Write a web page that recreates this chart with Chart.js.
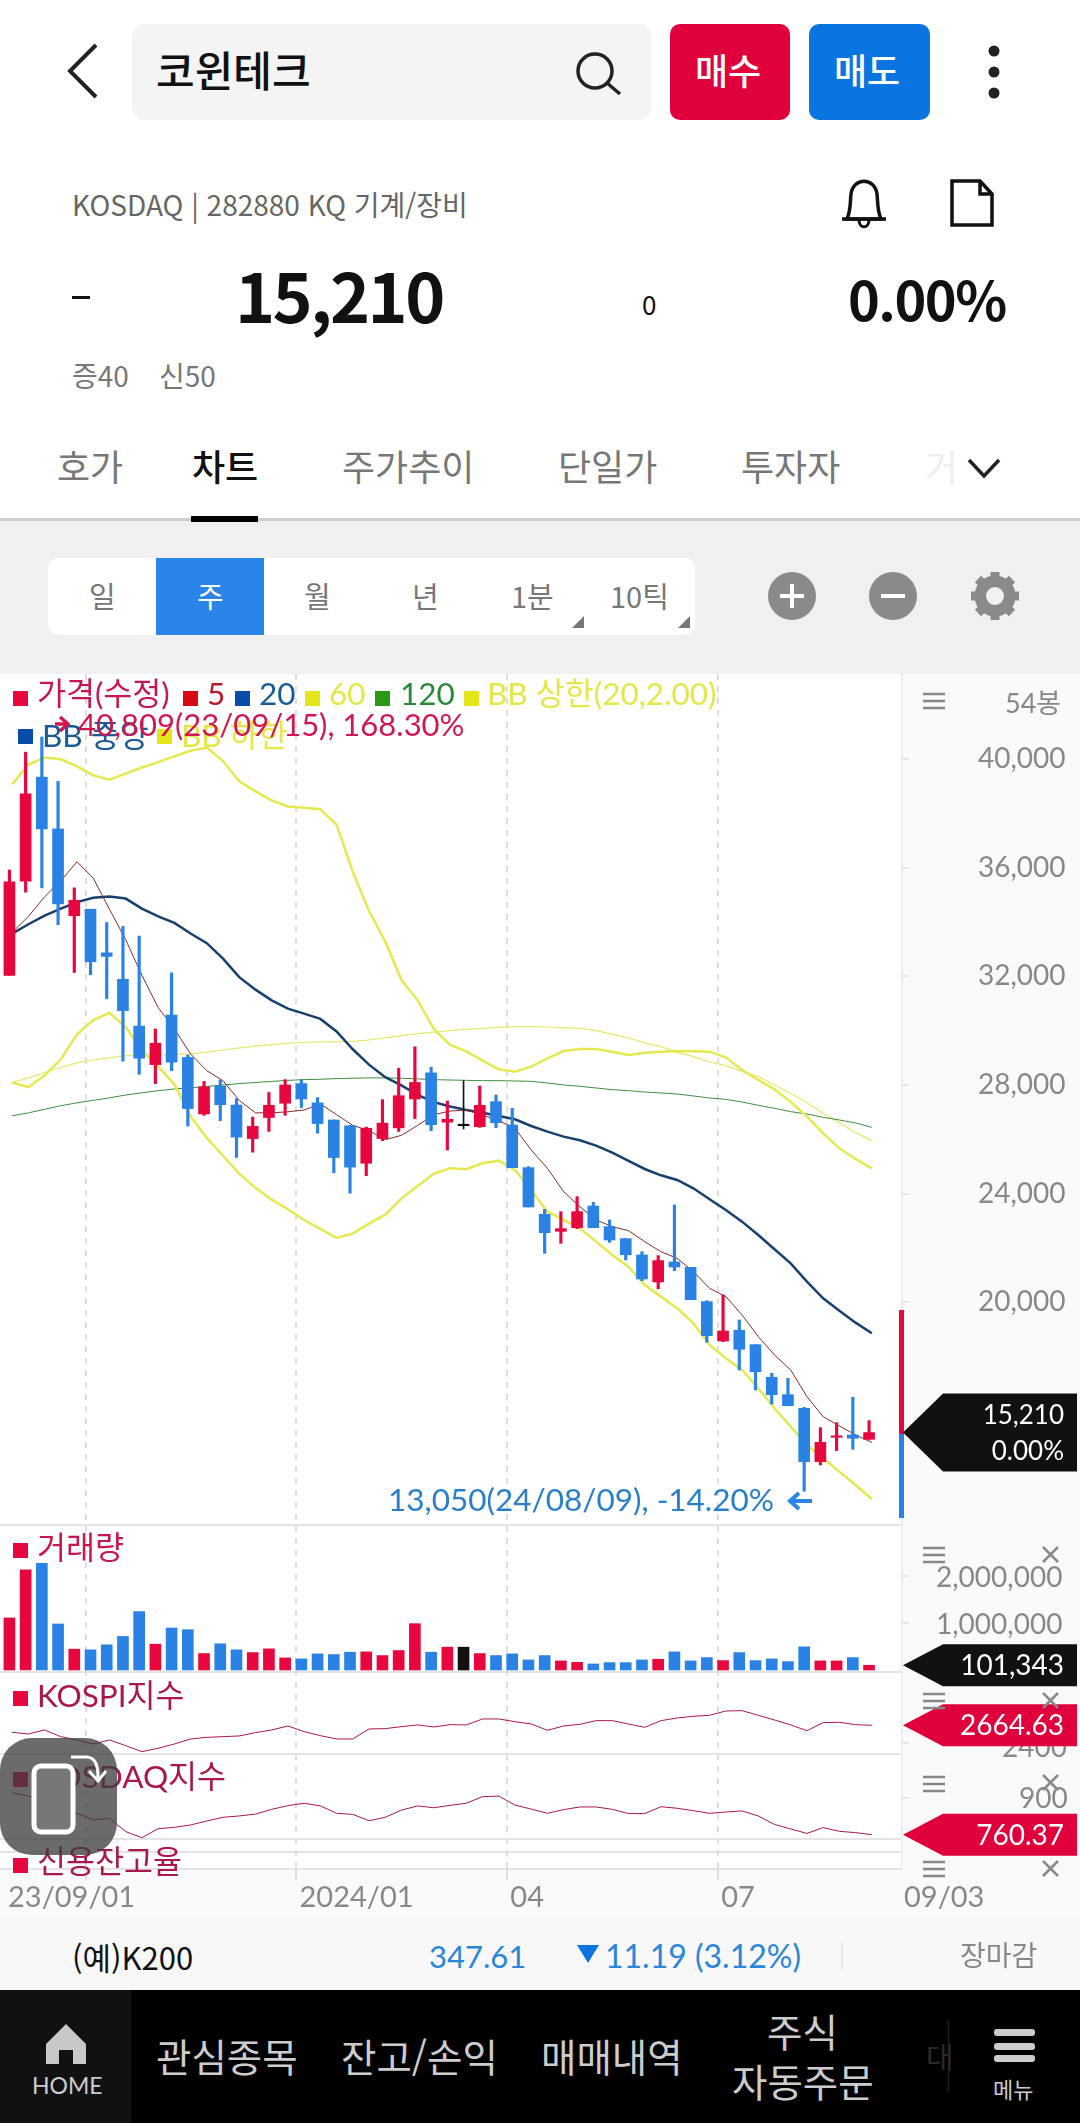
<!DOCTYPE html>
<html lang="ko">
<head>
<meta charset="utf-8">
<title>코윈테크</title>
<script src="https://cdn.jsdelivr.net/npm/chart.js@4"></script>
<style>
    html, body { margin: 0; padding: 0; background: #fff; }
    body { position: relative; width: 1080px; height: 2123px; overflow: hidden; font-family: Lato, "Noto Sans CJK KR", sans-serif; }
    .box, .t, svg, canvas { position: absolute; }
    .t { white-space: nowrap; line-height: 1; transform: translateY(-50%); }
    .k { font-family: "Noto Sans CJK KR", sans-serif; }
    .sq { position: absolute; width: 15px; height: 15px; }
</style>
</head>
<body>
<!-- backgrounds -->
<div class="box" style="left:0;top:520px;width:1080px;height:154px;background:#f0f0f0"></div>
<div class="box" style="left:0;top:518px;width:1080px;height:3px;background:#cfcfcf"></div>
<div class="box" style="left:191px;top:516px;width:67px;height:6px;background:#000"></div>
<div class="box" style="left:901px;top:674px;width:179px;height:1244px;background:#fafafa;border-left:2px solid #eee;box-sizing:border-box"></div>
<div class="box" style="left:0;top:1870px;width:1080px;height:48px;background:#fafafa"></div>
<div class="box" style="left:0;top:1917px;width:1080px;height:74px;background:#f8f8f8"></div>
<div class="box" style="left:0;top:1990px;width:1080px;height:133px;background:#000"></div>
<div class="box" style="left:0;top:1990px;width:131px;height:133px;background:#111"></div>
<!-- panel separators -->
<div class="box" style="left:0;top:1524px;width:901px;height:2px;background:#e4e4e4"></div>
<div class="box" style="left:0;top:1671px;width:901px;height:2px;background:#e4e4e4"></div>
<div class="box" style="left:0;top:1753px;width:901px;height:2px;background:#e4e4e4"></div>
<div class="box" style="left:0;top:1838px;width:901px;height:2px;background:#e4e4e4"></div>
<div class="box" style="left:0;top:1851px;width:901px;height:2px;background:#e4e4e4"></div>
<div class="box" style="left:0;top:1868px;width:901px;height:2px;background:#e4e4e4"></div>
<div class="box" style="left:899px;top:1310px;width:5px;height:124px;background:#e8063f"></div>
<div class="box" style="left:899px;top:1434px;width:5px;height:84px;background:#2a82e4"></div>

<!-- header -->
<svg style="left:60px;top:40px" width="45" height="62"><polyline points="36,5 10,31 36,57" fill="none" stroke="#222" stroke-width="4"/></svg>
<div class="box" style="left:132px;top:24px;width:519px;height:96px;background:#f4f4f4;border-radius:12px"></div>
<div class="t k" style="left:156px;top:69px;font-size:42px;font-weight:500;color:#111">코윈테크</div>
<svg style="left:572px;top:48px" width="52" height="50"><circle cx="23" cy="23" r="17" fill="none" stroke="#222" stroke-width="3.5"/><line x1="35" y1="35" x2="48" y2="46" stroke="#222" stroke-width="3.5"/></svg>
<div class="box" style="left:670px;top:24px;width:120px;height:96px;background:#e0003c;border-radius:10px"></div>
<div class="box" style="left:809px;top:24px;width:121px;height:96px;background:#0a74e0;border-radius:10px"></div>
<div class="t k" style="left:695px;top:69px;font-size:36px;font-weight:500;color:#fff">매수</div>
<div class="t k" style="left:834px;top:69px;font-size:36px;font-weight:500;color:#fff">매도</div>
<svg style="left:985px;top:42px" width="18" height="60"><circle cx="9" cy="9" r="5.5" fill="#222"/><circle cx="9" cy="30" r="5.5" fill="#222"/><circle cx="9" cy="51" r="5.5" fill="#222"/></svg>

<div class="t k" style="left:72px;top:204px;font-size:28px;color:#666">KOSDAQ&nbsp;|&nbsp;282880 KQ 기계/장비</div>
<svg style="left:838px;top:178px" width="52" height="54"><path d="M9 41 C13 32 12 24 13 16 C15 -1 37 -1 39 16 C40 24 39 32 43 41 Z" fill="none" stroke="#111" stroke-width="3.5"/><line x1="4" y1="41" x2="48" y2="41" stroke="#111" stroke-width="3.5"/><path d="M21 42 C21 51 31 51 31 42" fill="none" stroke="#111" stroke-width="3"/></svg>
<svg style="left:948px;top:178px" width="50" height="52"><path d="M4 3 H32 L44 16 V47 H4 Z M32 3 V16 H44" fill="none" stroke="#111" stroke-width="3.5"/></svg>
<div class="box" style="left:72px;top:296px;width:18px;height:3px;background:#111"></div>
<div class="t k" style="left:235px;top:294px;font-size:68px;font-weight:700;color:#111;letter-spacing:-2.5px">15,210</div>
<div class="t k" style="left:642px;top:304px;font-size:26px;color:#111">0</div>
<div class="t k" style="left:848px;top:298px;font-size:54px;font-weight:700;color:#111;letter-spacing:-1.5px">0.00%</div>
<div class="t k" style="left:72px;top:375px;font-size:28px;color:#777">증40</div>
<div class="t k" style="left:159px;top:375px;font-size:28px;color:#777">신50</div>

<!-- tabs -->
<div class="t k" style="left:57px;top:465px;font-size:36px;color:#777">호가</div>
<div class="t k" style="left:192px;top:465px;font-size:36px;font-weight:500;color:#111">차트</div>
<div class="t k" style="left:342px;top:465px;font-size:36px;color:#777">주가추이</div>
<div class="t k" style="left:558px;top:465px;font-size:36px;color:#777">단일가</div>
<div class="t k" style="left:741px;top:465px;font-size:36px;color:#777">투자자</div>
<div class="t k" style="left:925px;top:465px;font-size:36px;color:#eee">거</div>
<svg style="left:966px;top:456px" width="36" height="24"><polyline points="3,4 18,20 33,4" fill="none" stroke="#222" stroke-width="3.5"/></svg>

<!-- period buttons -->
<div class="box" style="left:48px;top:558px;width:647px;height:77px;background:#fff;border-radius:10px"></div>
<div class="box" style="left:156px;top:558px;width:108px;height:77px;background:#2b85e8"></div>
<div class="t k" style="left:89px;top:595px;font-size:29px;color:#777">일</div>
<div class="t k" style="left:197px;top:595px;font-size:29px;color:#fff">주</div>
<div class="t k" style="left:304px;top:595px;font-size:29px;color:#777">월</div>
<div class="t k" style="left:412px;top:595px;font-size:29px;color:#777">년</div>
<div class="t k" style="left:511px;top:595px;font-size:29px;color:#777">1분</div>
<div class="t k" style="left:610px;top:595px;font-size:29px;color:#777">10틱</div>
<svg style="left:570px;top:613px" width="124" height="18"><polygon points="14,3 14,15 2,15" fill="#777"/><polygon points="120,3 120,15 108,15" fill="#777"/></svg>
<svg style="left:766px;top:570px" width="254" height="54">
    <circle cx="26" cy="26" r="24" fill="#8a8a8a"/><path d="M14 26 H38 M26 14 V38" stroke="#fff" stroke-width="4"/>
    <circle cx="127" cy="26" r="24" fill="#8a8a8a"/><path d="M115 26 H139" stroke="#fff" stroke-width="4"/>
    <circle cx="229" cy="26" r="15" fill="none" stroke="#8a8a8a" stroke-width="11"/>
    <path d="M229 2 V50 M205 26 H253 M212 9 L246 43 M246 9 L212 43" stroke="#8a8a8a" stroke-width="9"/>
    <circle cx="229" cy="26" r="9" fill="#f0f0f0"/>
</svg>

<canvas id="priceChart" width="1080" height="1244" style="left:0;top:674px"></canvas>

<!-- chart legends -->
<div class="sq" style="left:13px;top:691px;background:#e8063f"></div>
<div class="t" style="left:37px;top:694px;font-size:31.5px;color:#c8174f">가격(수정)</div>
<div class="sq" style="left:183px;top:691px;background:#d80a14"></div>
<div class="t" style="left:207px;top:694px;font-size:31.5px;color:#b81a28">5</div>
<div class="sq" style="left:235px;top:691px;background:#0a4da8"></div>
<div class="t" style="left:259px;top:694px;font-size:31.5px;color:#1a5a96">20</div>
<div class="sq" style="left:305px;top:691px;background:#e4e61a"></div>
<div class="t" style="left:329px;top:694px;font-size:31.5px;color:#e4e64a">60</div>
<div class="sq" style="left:375px;top:691px;background:#2a9a14"></div>
<div class="t" style="left:400px;top:694px;font-size:31.5px;color:#2a8a3a">120</div>
<div class="sq" style="left:464px;top:691px;background:#e4e61a"></div>
<div class="t" style="left:487px;top:694px;font-size:31.5px;color:#e4e64a">BB 상한(20,2.00)</div>
<div class="sq" style="left:18px;top:729px;background:#0a4da8"></div>
<div class="t" style="left:42px;top:736px;font-size:31.5px;color:#1a5a96">BB 중앙</div>
<div class="sq" style="left:157px;top:729px;background:#e4e61a"></div>
<div class="t" style="left:181px;top:736px;font-size:31.5px;color:#e4e64a">BB 하한</div>
<svg style="left:54px;top:714px" width="16" height="20"><path d="M1 10 H13 M6 3 L14 10 L6 17" fill="none" stroke="#d0174f" stroke-width="3.5"/></svg>
<div class="t" style="left:78px;top:724px;font-size:31px;color:#d0174f">40,809(23/09/15), 168.30%</div>
<div class="t" style="left:388px;top:1500px;font-size:31.5px;color:#2b7fc8">13,050(24/08/09), -14.20%</div>
<svg style="left:787px;top:1490px" width="26" height="22"><path d="M25 11 H4 M12 3 L3 11 L12 19" fill="none" stroke="#2b85e8" stroke-width="4"/></svg>

<div class="sq" style="left:13px;top:1543px;background:#e8063f"></div>
<div class="t" style="left:37px;top:1548px;font-size:31.5px;color:#c8174f">거래량</div>
<div class="sq" style="left:13px;top:1691px;background:#e8063f"></div>
<div class="t" style="left:37px;top:1696px;font-size:31.5px;color:#a8174f">KOSPI지수</div>
<div class="sq" style="left:13px;top:1772px;background:#e8063f"></div>
<div class="t" style="left:37px;top:1777px;font-size:31.5px;color:#a8174f">KOSDAQ지수</div>
<div class="sq" style="left:13px;top:1858px;background:#e8063f"></div>
<div class="t" style="left:37px;top:1862px;font-size:31.5px;color:#a8174f">신용잔고율</div>

<div class="t" style="left:1005px;top:702px;font-size:27px;color:#888">54봉</div>
<svg style="left:923px;top:690px" width="135" height="200">
    <path d="M0 4 H22 M0 11 H22 M0 18 H22" stroke="#888" stroke-width="2.5"/>
</svg>
<svg style="left:923px;top:1545px" width="140" height="340" fill="none" stroke="#888" stroke-width="2.5">
    <path d="M0 3 H22 M0 10 H22 M0 17 H22"/>
    <path d="M120 2 L135 17 M135 2 L120 17"/>
    <path d="M0 149 H22 M0 156 H22 M0 163 H22"/>
    <path d="M120 148 L135 163 M135 148 L120 163"/>
    <path d="M0 232 H22 M0 239 H22 M0 246 H22"/>
    <path d="M120 230 L135 245 M135 230 L120 245"/>
    <path d="M0 317 H22 M0 324 H22 M0 331 H22"/>
    <path d="M120 316 L135 331 M135 316 L120 331"/>
</svg>

<!-- floating rotate button -->
<div class="box" style="left:0;top:1738px;width:117px;height:117px;background:rgba(60,60,60,.76);border-radius:32px"></div>
<svg style="left:0;top:1738px" width="117" height="117">
    <rect x="34" y="28" width="39" height="66" rx="7" fill="#777" stroke="#fff" stroke-width="5"/>
    <path d="M71 19 H86 C96 19 98 28 98 40 M89 33 L98 43 L106 33" fill="none" stroke="#fff" stroke-width="3"/>
</svg>

<!-- index strip -->
<div class="t k" style="left:72px;top:1956px;font-size:31px;color:#111">(예)K200</div>
<div class="t" style="left:429px;top:1956px;font-size:31px;color:#2b85d8">347.61</div>
<svg style="left:576px;top:1944px" width="24" height="20"><polygon points="1,1 23,1 12,19" fill="#0a74e0"/></svg>
<div class="t" style="left:605px;top:1956px;font-size:32px;color:#2b85d8">11.19 (3.12%)</div>
<div class="box" style="left:841px;top:1942px;width:2px;height:28px;background:#e8e8e8"></div>
<div class="t k" style="left:960px;top:1954px;font-size:28px;color:#888">장마감</div>

<!-- bottom nav -->
<svg style="left:44px;top:2022px" width="44" height="44"><path d="M22 2 L42 22 V42 H29 V28 H15 V42 H2 V22 Z" fill="#c8c8c8"/></svg>
<div class="t" style="left:32px;top:2085px;font-size:23px;font-weight:400;color:#ccc">HOME</div>
<div class="t k" style="left:156px;top:2055px;font-size:38.5px;color:#ccc">관심종목</div>
<div class="t k" style="left:341px;top:2055px;font-size:38.5px;color:#ccc">잔고/손익</div>
<div class="t k" style="left:541px;top:2055px;font-size:38.5px;color:#ccc">매매내역</div>
<div class="t k" style="left:767px;top:2030px;font-size:38.5px;color:#ccc">주식</div>
<div class="t k" style="left:732px;top:2080px;font-size:38.5px;color:#ccc">자동주문</div>
<div class="t k" style="left:926px;top:2055px;font-size:30px;color:#2a2a2a">대</div>
<div class="box" style="left:948px;top:2020px;width:1px;height:72px;background:#222"></div>
<svg style="left:994px;top:2028px" width="42" height="38"><rect y="1" width="41" height="7" rx="3" fill="#ccc"/><rect y="15" width="41" height="7" rx="3" fill="#ccc"/><rect y="27" width="41" height="7" rx="3" fill="#ccc"/></svg>
<div class="t k" style="left:993px;top:2088px;font-size:22px;color:#ccc">메뉴</div>

<script>
// Chart data
const opens = [32037,35507,39332,37426,34232,34469,32865,31892,30170,28751,30578,29014,26937,27962,27265,26030,26805,27331,28054,27344,26713,26500,25123,26030,26424,27489,28448,26634,26503,26468,27388,26530,24959,23242,22616,22751,23548,22788,22346,21745,20752,21487,21291,20028,18580,18973,18445,17243,16605,16102,14139,15035,15120,14961];
const closes = [35481,38715,37426,34666,34797,32536,32733,30736,28987,29539,28843,27134,27936,27278,26082,26477,27252,28001,27489,26582,25333,24978,26411,26595,27607,28093,26542,26739,26503,27253,26615,24959,23512,22567,22714,23340,22751,22297,21757,20862,21537,21303,20101,18776,18948,18273,17451,16605,16200,14139,14850,15084,14998,15210];
const highs = [35915,40253,40809,39175,35257,34469,33982,33838,33483,30065,32129,29106,28133,28185,27502,26819,27725,28199,28199,27541,26713,26516,26450,27462,28619,29408,28658,27410,28159,27965,27634,27143,24996,23426,23340,23892,23683,23033,22346,21868,21720,23585,21291,20064,20273,19353,18445,17390,17206,16138,15390,15574,16507,15648];
const lows = [32037,35100,35257,33904,32142,32063,31182,28882,28396,28054,28527,26490,26884,26687,25333,25530,26293,26884,27173,26227,24768,24018,24662,25951,26293,26766,26319,25609,26384,26440,26431,24959,23512,21806,22174,22714,22751,22211,21561,20800,20506,21168,20101,18531,18555,17513,16777,16261,16200,13050,14016,14544,14593,14961];
const volumes = [1107000,2129000,2271000,979000,443000,429000,536000,714000,1243000,550000,893000,857000,350000,557000,429000,371000,450000,257000,236000,343000,329000,379000,386000,307000,414000,986000,379000,486000,486000,350000,307000,343000,214000,307000,193000,164000,129000,157000,157000,214000,229000,386000,193000,264000,200000,371000,200000,236000,179000,493000,193000,193000,264000,101343];
const ma5 = [33614,34206,34929,35520,36217,35612,34469,33351,32037,30854,30065,29145,28527,28159,27436,26976,26976,27015,27081,27305,26910,26516,26319,25990,26148,26516,26910,27042,27081,26897,26689,26407,25609,24934,24076,23524,23033,22788,22641,22236,21868,21622,21132,20518,20212,19537,18739,18065,17512,16531,15795,15452,15120,14850];
const ma20 = [33575,33917,34232,34495,34732,34890,34942,34863,34495,34206,33969,33575,33220,32655,31971,31511,31117,30814,30630,30433,29973,29316,28751,28291,27988,27633,27370,27212,27081,26983,26861,26738,26493,26284,26100,25965,25769,25511,25205,24910,24677,24505,24199,23794,23401,22972,22481,21954,21438,20764,20150,19696,19255,18862];
const ma60 = [28093,28264,28461,28645,28816,28921,29000,29079,29092,29105,29118,29145,29211,29290,29369,29434,29487,29539,29566,29592,29592,29605,29658,29737,29816,29895,29947,30000,30052,30087,30124,30149,30149,30136,30112,30087,30001,29866,29731,29560,29412,29204,29044,28848,28713,28505,28308,28002,27695,27351,26959,26615,26247,25953];
const ma120 = [26871,26976,27107,27239,27344,27436,27528,27633,27712,27791,27857,27896,27949,28001,28054,28093,28133,28172,28199,28212,28238,28251,28264,28264,28251,28225,28199,28185,28172,28161,28161,28149,28137,28075,28002,27953,27891,27830,27793,27744,27707,27670,27597,27523,27474,27376,27253,27143,27020,26934,26812,26714,26603,26443];
const bbUpper = [39070,39793,40055,39990,39727,39398,39240,39464,39687,39885,40095,40305,40424,39924,39175,38807,38478,38255,38202,38149,37584,35849,34403,33286,31866,31117,30065,29473,29237,28900,28578,28492,28676,28983,29253,29327,29327,29228,29106,29192,29228,29253,29241,29228,29020,28554,28186,27842,27388,26836,26223,25671,25278,24935];
const bbLower = [28093,27922,28356,28948,29868,30394,30657,30131,29276,28685,28027,26845,26056,25398,24741,24216,23782,23427,23033,22704,22370,22534,22901,23230,23821,24281,24741,24939,24899,25119,25217,24873,24137,23340,23033,22726,22236,21745,21316,20641,20212,19782,19230,18432,17942,17512,16838,16102,15427,14752,14261,13771,13280,12765];
const kospi = [2562,2537,2596,2498,2449,2390,2449,2366,2278,2327,2390,2464,2488,2498,2508,2557,2596,2655,2572,2513,2464,2464,2611,2616,2645,2670,2640,2674,2670,2758,2758,2718,2684,2591,2655,2679,2733,2733,2684,2635,2733,2772,2797,2812,2875,2880,2812,2743,2670,2586,2704,2709,2674,2664.63];
const kosdaq = [919,906,891,864,841,816,822,772,749,783,788,797,812,826,831,838,856,870,879,869,841,837,813,826,853,869,862,871,879,904,906,872,857,841,855,865,865,856,840,840,866,860,851,841,846,850,831,799,782,765,787,773,768,760.37];

const priceTicks = [40000, 36000, 32000, 28000, 24000, 20000];
const volumeTicks = [2000000, 1000000];
const kospiTicks = [2400];
const kosdaqTicks = [900];
const dateTicks = [-0.27, 4.7, 17.7, 30.7, 43.7, 54.97];
const dateLabels = ['23/09/01', '', '2024/01', '04', '07', '09/03'];

const RED = '#e8063f', BLUE = '#2a82e4', BLACK = '#111';
const FONT = 'Lato, "Noto Sans CJK KR", sans-serif';
const LINE_SHIFT = 0.17; // MA lines sit a little right of the candle centres

function candleColor(i) {
    if (closes[i] > opens[i]) return RED;
    if (closes[i] < opens[i]) return BLUE;
    return BLACK;
}

function barData(a, b) {
    return a.map((v, i) => ({ x: i, y: b ? [v, b[i]] : v }));
}

function lineData(values) {
    return values.map((y, i) => ({ x: i + LINE_SHIFT, y }));
}

function lineSet(values, color, width, order, yAxisID = 'y') {
    return { type: 'line', data: lineData(values), borderColor: color, borderWidth: width, pointRadius: 0, tension: 0, order, yAxisID };
}

function barColor(ctx) {
    return candleColor(ctx.raw.x);
}

// y axis for one stacked panel
function panelScale(weight, min, max, ticks, padding, labelOffset) {
    return {
        type: 'linear', position: 'right', stack: 'panels', stackWeight: weight, min, max,
        border: { display: false },
        grid: { drawOnChartArea: false, drawTicks: ticks.length > 0, tickLength: 8, color: '#e6e6e6', lineWidth: 2 },
        ticks: {
            display: ticks.length > 0, crossAlign: 'near', padding, labelOffset, color: '#888',
            font: { family: FONT, size: 28 },
            callback: v => v >= 10000 ? v.toLocaleString('en-US') : String(v)
        },
        afterBuildTicks: s => { s.ticks = ticks.map(value => ({ value })); },
        afterFit: s => { s.width = 179; s.paddingTop = 0; s.paddingBottom = 0; }
    };
}

// price tag on the right of each panel, at the last value
const tagPlugin = {
    id: 'priceTags',
    afterDraw(chart) {
        const tags = [
            { id: 'y', value: closes[53], color: '#111', half: 39, lines: ['15,210', '0.00%'] },
            { id: 'yVol', value: volumes[53], color: '#111', half: 21, lines: ['101,343'] },
            { id: 'yKospi', value: kospi[53], color: '#e0003c', half: 21, lines: ['2664.63'] },
            { id: 'yKosdaq', value: kosdaq[53], color: '#e0003c', half: 21, lines: ['760.37'] }
        ];
        const ctx = chart.ctx;
        tags.forEach(tag => {
            const y = chart.scales[tag.id].getPixelForValue(tag.value);
            ctx.fillStyle = tag.color;
            ctx.beginPath();
            ctx.moveTo(903, y);
            ctx.lineTo(943, y - tag.half);
            ctx.lineTo(1077, y - tag.half);
            ctx.lineTo(1077, y + tag.half);
            ctx.lineTo(943, y + tag.half);
            ctx.closePath();
            ctx.fill();
            ctx.fillStyle = '#fff';
            ctx.textAlign = 'right';
            ctx.textBaseline = 'middle';
            ctx.font = `${tag.lines.length > 1 ? 26 : 28}px ${FONT}`;
            tag.lines.forEach((text, i) => {
                ctx.fillText(text, 1064, y + (i - (tag.lines.length - 1) / 2) * 36 + 1);
            });
        });
    }
};

const isDoji = p => opens[p.x] === closes[p.x];

new Chart(document.getElementById('priceChart'), {
    type: 'bar',
    data: {
        datasets: [
            lineSet(ma120, '#3f8f3f', 1, 4),
            lineSet(ma60, '#e6e86a', 1.2, 4),
            lineSet(bbUpper, '#e6e84f', 2.5, 3),
            lineSet(bbLower, '#e6e84f', 2.5, 3),
            lineSet(ma20, '#17406f', 2.5, 3),
            lineSet(ma5, '#8a2a2a', 1, 2),
            { data: barData(lows, highs).filter(p => !isDoji(p)), backgroundColor: barColor, barThickness: 2.5, grouped: false, order: 1, yAxisID: 'y' },
            { data: barData(lows, highs).filter(isDoji), backgroundColor: barColor, barThickness: 1, grouped: false, order: 1, yAxisID: 'y' },
            { data: barData(opens, closes), backgroundColor: barColor, barThickness: 11, minBarLength: 1.5, grouped: false, order: 0, yAxisID: 'y' },
            { data: barData(volumes), backgroundColor: barColor, barThickness: 11, grouped: false, order: 0, yAxisID: 'yVol' },
            lineSet(kospi, '#a8174f', 1, 0, 'yKospi'),
            lineSet(kosdaq, '#a8174f', 1, 0, 'yKosdaq')
        ]
    },
    options: {
        responsive: false,
        animation: false,
        devicePixelRatio: 1,
        layout: { padding: 0 },
        plugins: { legend: { display: false }, tooltip: { enabled: false } },
        scales: {
            x: {
                type: 'linear', position: 'bottom', min: -0.58, max: 54.97, offset: false,
                border: { display: false, dash: [6, 6] },
                grid: {
                    offset: false,
                    color: c => (c.index === 0 || c.index === 5) ? 'transparent' : '#dedede',
                    lineWidth: 2, tickLength: 11
                },
                ticks: {
                    padding: 0, align: 'start', maxRotation: 0, autoSkip: false, labelOffset: 3, color: '#888',
                    font: { family: FONT, size: 29 },
                    callback: (v, i) => dateLabels[i]
                },
                afterBuildTicks: s => { s.ticks = dateTicks.map(value => ({ value })); },
                afterFit: s => { s.height = 49; s.paddingLeft = 0; s.paddingRight = 0; }
            },
            y: panelScale(851, 11807, 43128, priceTicks, 69, 0),
            yVol: panelScale(147, -42553, 3085000, volumeTicks, 27, 2),
            yKospi: panelScale(82, 2243, 3448, kospiTicks, 93, 5),
            yKosdaq: panelScale(85, 744, 1065, kosdaqTicks, 110, 1),
            yCredit: panelScale(30, 0, 1, [], 0, 0)
        }
    },
    plugins: [tagPlugin]
});
</script>
</body>
</html>
